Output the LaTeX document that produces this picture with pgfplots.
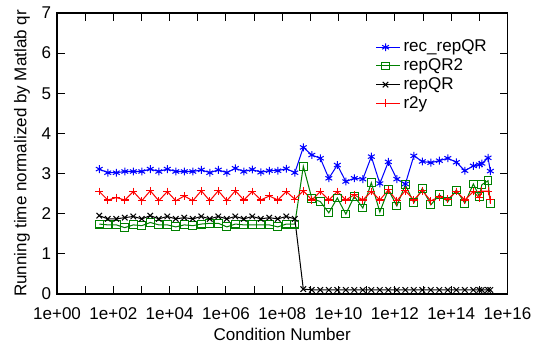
\documentclass[border=0pt]{standalone}
\usepackage{fontspec}
\setmainfont{Liberation Sans}
\usepackage{pgfplots}
\usepackage{pgfplotstable}
\pgfplotsset{compat=1.18}
\definecolor{gpgreen}{RGB}{0,128,0}
\definecolor{gpblue}{RGB}{0,0,255}
\definecolor{gpred}{RGB}{255,0,0}

\pgfplotstableread{
x blue green black red
3.162e1 3.11 1.74 1.95 2.55
6.339e1 3.02 1.72 1.87 2.34
1.271e2 3.02 1.72 1.87 2.40
2.547e2 3.05 1.65 1.90 2.34
5.105e2 3.05 1.72 1.93 2.55
1.023e3 3.05 1.70 1.87 2.32
2.051e3 3.11 1.78 1.95 2.57
4.111e3 3.05 1.72 1.87 2.32
8.241e3 3.11 1.72 1.93 2.55
1.652e4 3.05 1.67 1.87 2.32
3.311e4 3.05 1.72 1.90 2.44
6.637e4 3.05 1.70 1.87 2.32
1.330e5 3.09 1.74 1.93 2.57
2.667e5 3.02 1.76 1.87 2.32
5.346e5 3.09 1.76 1.93 2.57
1.072e6 3.02 1.67 1.87 2.32
2.148e6 3.13 1.74 1.93 2.57
4.305e6 3.05 1.72 1.87 2.34
8.630e6 3.10 1.72 1.93 2.55
1.730e7 3.03 1.72 1.87 2.34
3.467e7 3.07 1.72 1.90 2.44
6.950e7 3.07 1.67 1.87 2.34
1.393e8 3.12 1.74 1.93 2.55
2.793e8 3.02 1.74 1.87 2.36
5.598e8 3.65 3.18 0.12 2.57
1.122e9 3.46 2.38 0.10 2.34
2.249e9 3.38 2.30 0.10 2.55
4.508e9 2.88 2.02 0.10 2.34
9.037e9 3.21 2.39 0.10 2.55
1.811e10 2.80 1.99 0.10 2.34
3.631e10 2.88 2.43 0.10 2.47
7.278e10 2.86 2.14 0.10 2.34
1.459e11 3.42 2.77 0.10 2.55
2.924e11 2.75 2.04 0.10 2.34
5.861e11 3.29 2.60 0.10 2.59
1.175e12 2.86 2.19 0.10 2.32
2.355e12 2.74 2.72 0.10 2.57
4.721e12 3.44 2.27 0.10 2.34
9.462e12 3.30 2.63 0.10 2.57
1.897e13 3.27 2.22 0.10 2.32
3.802e13 3.32 2.47 0.10 2.42
7.621e13 3.38 2.30 0.10 2.36
1.528e14 3.28 2.59 0.10 2.55
3.062e14 3.07 2.26 0.10 2.34
6.138e14 3.19 2.74 0.10 2.55
1.000e15 3.22 2.43 0.10 2.39
1.230e15 3.25 2.72 0.10 2.56
2.042e15 3.39 2.82 0.10 2.56
2.466e15 3.06 2.25 0.10 2.35
}\datatable

\begin{document}
\begin{tikzpicture}[font=\fontsize{10}{12}\selectfont]
\begin{axis}[
  scale only axis, width=264.5pt, height=165pt,
  xmode=log, xmin=1, xmax=1e16, ymin=0, ymax=7,
  xtick={1,1e2,1e4,1e6,1e8,1e10,1e12,1e14,1e16},
  xticklabels={1e+00,1e+02,1e+04,1e+06,1e+08,1e+10,1e+12,1e+14,1e+16},
  minor xtick={1e1,1e3,1e5,1e7,1e9,1e11,1e13,1e15},
  ytick={0,1,2,3,4,5,6,7},
  tick align=inside, tick pos=both,
  major tick length=4.5pt, minor tick length=4.5pt,
  axis line style={line width=0.9pt},
  every tick/.style={black, line width=0.6pt},
  /pgf/number format/assume math mode=true,
  xticklabel style={yshift=-4.5pt},
  xlabel={Condition Number},
  xlabel style={yshift=2pt},
  ylabel={Running time normalized by Matlab qr},
  legend style={draw=none, fill=none, at={(0.707,0.917)}, anchor=north west,
    row sep=-1.5pt, inner sep=0pt},
  legend cell align=left,
  legend image code/.code={\draw[mark repeat=2,mark phase=2] plot coordinates {(0cm,0cm) (0.19cm,0cm) (0.38cm,0cm)};
    \path (0cm,0cm) -- (0.48cm,0cm);},
  every axis plot/.append style={line width=0.6pt, mark size=2.3pt},
]
\addlegendimage{gpblue, mark=asterisk, line width=0.6pt, mark size=2.3pt}
\addlegendentry{rec\_repQR}
\addlegendimage{gpgreen, mark=square, line width=0.6pt, mark size=2.3pt}
\addlegendentry{repQR2}
\addlegendimage{black, mark=x, line width=0.6pt, mark size=2.3pt}
\addlegendentry{repQR}
\addlegendimage{color=gpred, mark=+, line width=0.6pt, mark size=2.3pt, mark options={color=gpred}}
\addlegendentry{r2y}
\addplot[gpblue, mark=asterisk, forget plot] table[x=x, y=blue] {\datatable};
\addplot[gpgreen, mark=square, forget plot] table[x=x, y=green] {\datatable};
\addplot[black, mark=x, forget plot] table[x=x, y=black] {\datatable};
\addplot[gpred, mark=+, forget plot] table[x=x, y=red] {\datatable};
\end{axis}
\pgfresetboundingbox
\path[use as bounding box] (-33.5pt,-32.9pt) rectangle (279.5pt,172.6pt);
\end{tikzpicture}
\end{document}
